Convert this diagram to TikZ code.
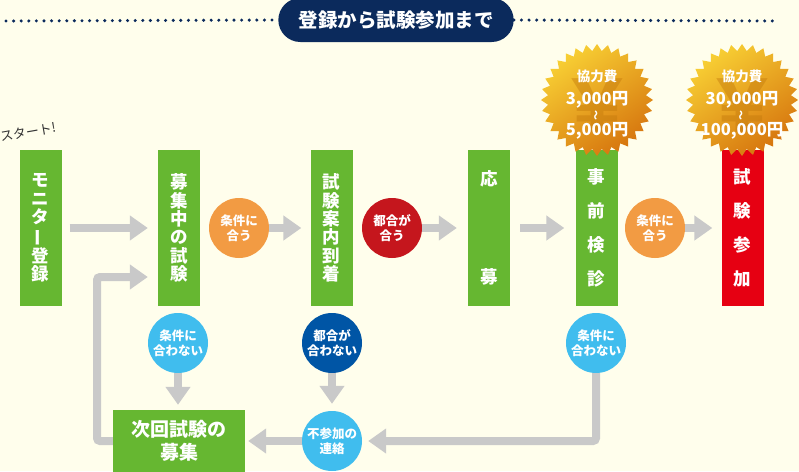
\documentclass[tikz,border=0pt]{standalone}
\usepackage{fontspec}
\setmainfont{Noto Sans CJK JP}
\usetikzlibrary{arrows.meta,shapes.geometric,shapes.misc}

\definecolor{bgcream}{HTML}{FFFEEC}
\definecolor{navy}{HTML}{0B2A5C}
\definecolor{boxgreen}{HTML}{66B731}
\definecolor{boxred}{HTML}{E60012}
\definecolor{okorange}{HTML}{F29B43}
\definecolor{okred}{HTML}{C5161D}
\definecolor{ngblue}{HTML}{40BDEE}
\definecolor{ngnavy}{HTML}{0055A5}
\definecolor{arrowgray}{HTML}{C9C9C9}
\definecolor{goldtop}{HTML}{F8D034}
\definecolor{goldbottom}{HTML}{D6750E}
\definecolor{yenorange}{HTML}{C47A0C}

\begin{document}
\begin{tikzpicture}[yscale=-1, x=1pt, y=1pt,
	stepbox/.style={fill=boxgreen, minimum width=42pt, minimum height=156pt, inner sep=0pt,
		text=white, align=center, font=\bfseries\fontsize{17.5}{18.4}\selectfont},
	choice/.style={circle, minimum size=60pt, inner sep=0pt, text=white, align=center,
		font=\bfseries\fontsize{12.5}{14.5}\selectfont},
	flow/.style={draw=arrowgray, line width=8pt, -{Triangle[width=24pt, length=18pt]}},
	dotline/.style={draw=navy, line width=3.4pt, line cap=round, dash pattern=on 0pt off 7.6pt},
	medal/.style={star, star points=32, star point ratio=1.14, minimum size=112pt, inner sep=0pt,
		top color=goldtop, bottom color=goldbottom, shading angle=35},
	yen/.style={text=yenorange, text opacity=0.45, font=\bfseries\fontsize{72}{72}\selectfont},
	feetext/.style={text=white, align=center, font=\bfseries\fontsize{16.5}{14.5}\selectfont}]

	\useasboundingbox (0,0) rectangle (799,471);
	\fill[bgcream] (0,0) rectangle (799,471);

	% title
	\node[rounded rectangle, fill=navy, text=white, minimum width=242pt, minimum height=44pt,
		font=\bfseries\fontsize{19.5}{20}\selectfont] (head) at (396,20) {登録から試験参加まで};
	\draw[dotline] (6,21) -- (head.west);
	\draw[dotline] (head.east) -- (778,21);

	\node[rotate=10, text=black!80, font=\fontsize{13}{14}\selectfont] (start) at (28,132) {スタート!};

	% steps
	\node[stepbox] (reg) at (40.5,228) {モ\\ニ\\タ\\\rotatebox[origin=c]{90}{ー}\\登\\録};
	\node[stepbox] (rec) at (179,228) {募\\集\\中\\の\\試\\験};
	\node[stepbox] (guide) at (331.5,228) {試\\験\\案\\内\\到\\着};
	\node[stepbox, font=\bfseries\fontsize{17.5}{98}\selectfont] (apply) at (489,228) {応\\募};
	\node[stepbox, font=\bfseries\fontsize{17.5}{34}\selectfont] (exam) at (596.5,228) {事\\前\\検\\診};
	\node[stepbox, fill=boxred, font=\bfseries\fontsize{17.5}{34}\selectfont] (join) at (742.5,228) {試\\験\\参\\加};
	\node[stepbox, minimum width=132pt, minimum height=62pt, font=\bfseries\fontsize{19}{23}\selectfont]
		(next) at (179,441) {次回試験の\\募集};

	% conditions
	\node[choice, fill=okorange] (ok1) at (239,228) {条件に\\合う};
	\node[choice, fill=okred] (fit) at (392,228) {都合が\\合う};
	\node[choice, fill=okorange] (ok2) at (655,228) {条件に\\合う};
	\node[choice, fill=ngblue] (ng1) at (178,343) {条件に\\合わない};
	\node[choice, fill=ngnavy] (ng2) at (332,343) {都合が\\合わない};
	\node[choice, fill=ngblue] (ng3) at (596,343) {条件に\\合わない};
	\node[choice, fill=ngblue] (absent) at (332,441) {不参加の\\連絡};

	% fees
	\foreach \m/\x/\lo/\hi in {fee1/597/{3,000}/{5,000}, fee2/742/{30,000}/{100,000}} {
		\node[medal] (\m) at (\x,100) {};
		\node[yen] (\m yen) at (\x,106) {￥};
		\node[feetext] (\m text) at (\x,105) {{\fontsize{13.5}{14.5}\selectfont 協力費}\\[8.5pt]\lo 円\\[-1.5pt]
			{\fontsize{10}{10}\selectfont\rotatebox[origin=c]{90}{〜}}\\[1.5pt]\hi 円};
	}

	% arrows
	\foreach \a/\b/\s/\e in {reg/rec/8/10, ok1/guide/0/9, fit/apply/0/11, apply/exam/10/11, ok2/join/0/9}
		\draw[flow, shorten <=\s pt, shorten >=\e pt] (\a) -- (\b);
	\draw[flow, shorten >=5pt] (ng1) -- (ng1 |- next.north);
	\draw[flow, shorten >=7pt] (ng2) -- (absent);
	\draw[flow, rounded corners=3pt, shorten >=6pt] (ng3) |- (absent);
	\draw[flow, shorten >=3pt] (absent) -- (next);
	\coordinate (back) at (97,277);
	\draw[flow, rounded corners=3pt, shorten >=10pt] (next) -| (back) -- (back -| rec.west);
\end{tikzpicture}
\end{document}
